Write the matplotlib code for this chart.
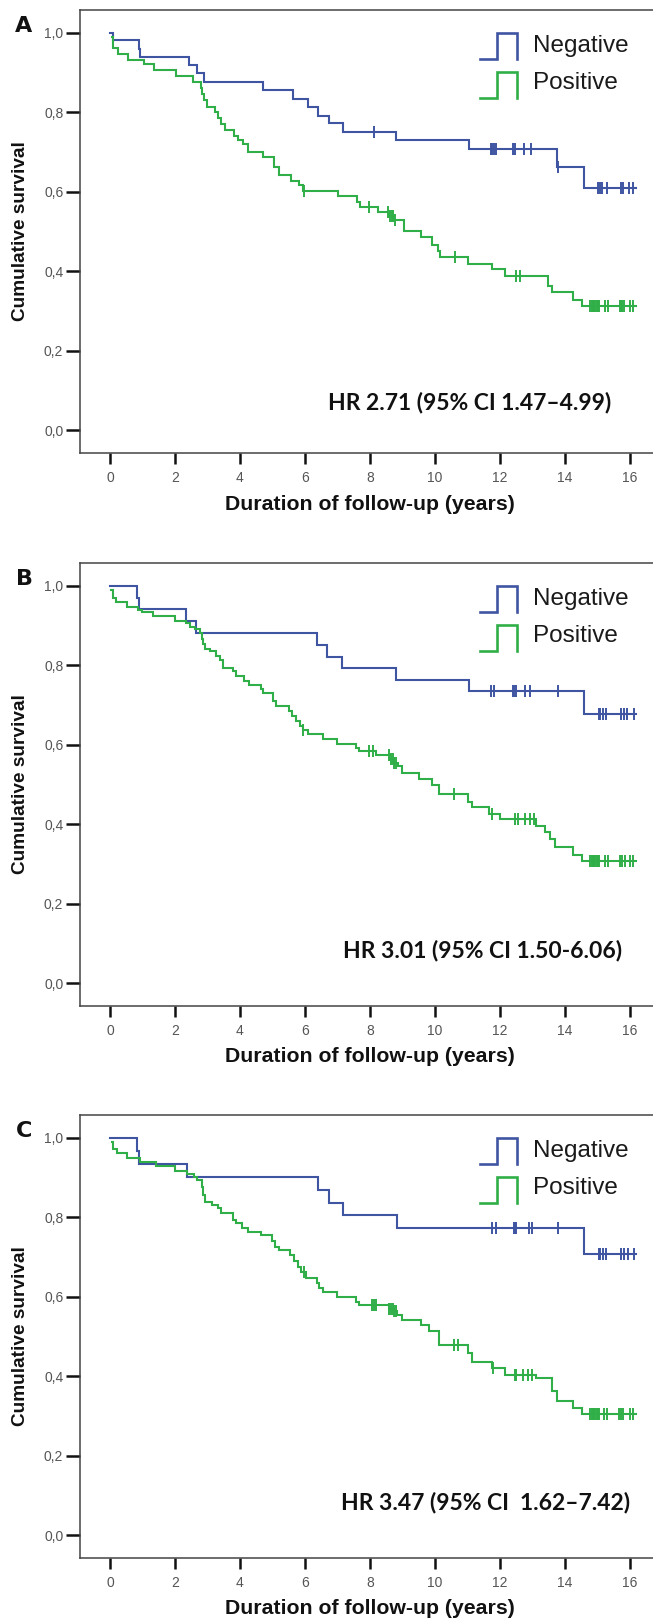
import matplotlib
matplotlib.use("Agg")
import matplotlib.pyplot as plt
import numpy as np

plt.rcParams['font.family'] = ['Liberation Sans', 'DejaVu Sans']

# ---------------- data ----------------
panel_letters = ["A", "B", "C"]
hr_texts = ["HR 2.71 (95% CI 1.47\u20134.99)",
            "HR 3.01 (95% CI 1.50-6.06)",
            "HR 3.47 (95% CI  1.62\u20137.42)"]
group_labels = ["Negative", "Positive"]
x_ticks = [0, 2, 4, 6, 8, 10, 12, 14, 16]
y_ticks = [0.0, 0.2, 0.4, 0.6, 0.8, 1.0]
y_tick_labels = ["0,0", "0,2", "0,4", "0,6", "0,8", "1,0"]
x_label = "Duration of follow-up (years)"
y_label = "Cumulative survival"
follow_up_end = [16.2, 16.2, 16.2]

# Panel A
a_neg_t = [0.0, 0.10, 0.88, 0.93, 2.42, 2.68, 2.89, 4.70, 5.64, 6.08, 6.39, 6.73, 7.16, 8.81, 11.04, 13.75, 14.60]
a_neg_s = [1.0, 0.981, 0.960, 0.940, 0.918, 0.898, 0.877, 0.856, 0.834, 0.812, 0.791, 0.772, 0.751, 0.729, 0.708, 0.661, 0.609]
a_neg_c = [8.13, 11.72, 11.77, 11.82, 11.87, 12.40, 12.45, 12.73, 12.97, 13.80,
           15.03, 15.08, 15.13, 15.29, 15.72, 15.78, 15.98, 16.10]
a_pos_t = [0.05, 0.08, 0.26, 0.54, 1.05, 1.36, 2.04, 2.54, 2.79, 2.84, 2.89, 2.97, 3.22, 3.32, 3.43,
           3.53, 3.83, 3.94, 4.09, 4.24, 4.70, 5.04, 5.19, 5.57, 5.83, 5.93, 7.03, 7.60, 7.69, 8.26,
           8.60, 8.74, 9.05, 9.56, 9.92, 10.10, 10.17, 11.02, 11.76, 12.15, 13.48, 13.60, 14.26, 14.52]
a_pos_s = [0.990, 0.961, 0.946, 0.931, 0.920, 0.905, 0.892, 0.877, 0.862, 0.846, 0.830, 0.812, 0.800, 0.786, 0.771,
           0.754, 0.741, 0.730, 0.720, 0.699, 0.687, 0.662, 0.643, 0.628, 0.616, 0.603, 0.590, 0.574, 0.561, 0.549,
           0.540, 0.528, 0.501, 0.486, 0.467, 0.452, 0.435, 0.419, 0.406, 0.387, 0.364, 0.348, 0.327, 0.312]
a_pos_c = [5.98, 7.98, 8.56, 8.63, 8.68, 8.72, 8.77, 10.61, 12.48, 12.62,
           14.78, 14.82, 14.86, 14.90, 14.94, 14.98, 15.02, 15.06, 15.23, 15.33,
           15.69, 15.73, 15.77, 15.82, 16.00, 16.10]

# Panel B
b_neg_t = [0.0, 0.83, 0.88, 2.33, 2.64, 6.36, 6.68, 7.13, 8.79, 11.04, 14.60]
b_neg_s = [1.0, 0.970, 0.941, 0.910, 0.881, 0.850, 0.821, 0.793, 0.764, 0.734, 0.678]
b_neg_c = [11.74, 11.82, 12.40, 12.44, 12.48, 12.77, 12.92, 13.79,
           15.04, 15.09, 15.16, 15.25, 15.71, 15.81, 15.92, 16.12]
b_pos_t = [0.04, 0.08, 0.20, 0.51, 0.87, 1.00, 1.33, 1.99, 2.35, 2.45, 2.63, 2.76, 2.83, 2.87,
           2.91, 3.07, 3.25, 3.37, 3.48, 3.80, 3.88, 4.11, 4.27, 4.65, 4.70, 5.01, 5.11, 5.52, 5.60,
           5.73, 5.85, 5.93, 6.08, 6.55, 7.00, 7.57, 7.67, 8.20, 8.62, 8.75, 8.85, 9.00, 9.51, 9.92,
           10.12, 11.02, 11.15, 11.66, 12.00, 13.10, 13.40, 13.55, 13.70, 14.26, 14.52]
b_pos_s = [0.988, 0.969, 0.958, 0.946, 0.938, 0.933, 0.923, 0.910, 0.906, 0.897, 0.891, 0.881, 0.865, 0.853,
           0.841, 0.835, 0.824, 0.812, 0.792, 0.785, 0.774, 0.761, 0.749, 0.739, 0.729, 0.709, 0.697, 0.684, 0.672,
           0.659, 0.646, 0.636, 0.626, 0.614, 0.601, 0.592, 0.584, 0.575, 0.565, 0.555, 0.546, 0.528, 0.514, 0.500,
           0.476, 0.456, 0.444, 0.426, 0.413, 0.396, 0.380, 0.362, 0.343, 0.322, 0.307]
b_pos_c = [5.93, 7.98, 8.08, 8.60, 8.65, 8.70, 8.75, 8.80, 10.60, 11.76, 12.47, 12.57, 12.78, 12.93, 13.04,
           14.78, 14.82, 14.86, 14.90, 14.94, 14.98, 15.02, 15.06, 15.23, 15.33,
           15.70, 15.75, 15.85, 16.00, 16.10]

# Panel C
c_neg_t = [0.0, 0.83, 0.88, 2.37, 6.39, 6.73, 7.18, 8.84, 14.60]
c_neg_s = [1.0, 0.966, 0.934, 0.902, 0.869, 0.836, 0.806, 0.773, 0.708]
c_neg_c = [11.75, 11.88, 12.42, 12.45, 12.48, 12.90, 13.00, 13.80,
           15.04, 15.09, 15.16, 15.25, 15.73, 15.83, 15.93, 16.13]
c_pos_t = [0.05, 0.09, 0.23, 0.51, 0.92, 1.43, 1.99, 2.37, 2.58, 2.68, 2.82, 2.86, 2.91, 3.13, 3.33,
           3.43, 3.79, 3.89, 4.07, 4.25, 4.65, 4.98, 5.08, 5.19, 5.55, 5.65, 5.78, 5.88, 6.03, 6.38,
           6.43, 6.54, 7.00, 7.57, 7.67, 8.60, 8.75, 8.84, 8.99, 9.56, 9.82, 10.12, 11.02, 11.14, 11.76,
           12.15, 13.11, 13.60, 13.76, 14.26, 14.52]
c_pos_s = [0.988, 0.971, 0.961, 0.950, 0.940, 0.930, 0.916, 0.908, 0.902, 0.894, 0.875, 0.857, 0.838, 0.831, 0.824,
           0.810, 0.793, 0.785, 0.772, 0.762, 0.754, 0.740, 0.726, 0.718, 0.705, 0.690, 0.676, 0.663, 0.647, 0.634,
           0.621, 0.613, 0.600, 0.588, 0.580, 0.570, 0.563, 0.554, 0.542, 0.529, 0.513, 0.479, 0.458, 0.437, 0.420,
           0.404, 0.395, 0.362, 0.337, 0.320, 0.305]
c_pos_c = [5.98, 8.05, 8.12, 8.20, 8.60, 8.65, 8.70, 8.75, 8.80, 10.60, 10.70, 11.80,
           12.45, 12.50, 12.70, 12.85, 13.00,
           14.78, 14.82, 14.86, 14.90, 14.94, 14.98, 15.02, 15.06, 15.20, 15.30,
           15.65, 15.72, 15.80, 16.00, 16.10]

panels = [
    ((a_neg_t, a_neg_s, a_neg_c), (a_pos_t, a_pos_s, a_pos_c)),
    ((b_neg_t, b_neg_s, b_neg_c), (b_pos_t, b_pos_s, b_pos_c)),
    ((c_neg_t, c_neg_s, c_neg_c), (c_pos_t, c_pos_s, c_pos_c)),
]

# ---------------- style / layout ----------------
W, H = 653, 1620
colors = ["#3F55A2", "#30AE48"]
panel_tops = [10, 563, 1115]
ax_left, ax_w, ax_h = 80, 573, 443
hr_pos = [(11.08, 0.071), (11.46, 0.082), (11.56, 0.083)]

fig = plt.figure(figsize=(W / 100, H / 100), dpi=100)

for i, (groups, top) in enumerate(zip(panels, panel_tops)):
    ax = fig.add_axes([ax_left / W, 1 - (top + ax_h) / H, ax_w / W, ax_h / H])
    for (t, s, c), col in zip(groups, colors):
        t = np.asarray(t, float)
        s = np.asarray(s, float)
        tt = np.r_[t, follow_up_end[i]]
        ss = np.r_[s, s[-1]]
        ax.step(tt, ss, where='post', color=col, lw=1.5, solid_joinstyle='miter')
        c = np.asarray(c, float)
        idx = np.searchsorted(t, c, side='right') - 1
        ax.plot(c, s[idx], ls='none', marker='|', ms=8, mew=1.4, color=col)

    ax.set_xlim(-0.923, 16.71)
    ax.set_ylim(-0.057, 1.057)
    ax.set_xticks(x_ticks)
    ax.set_xticklabels([str(v) for v in x_ticks])
    ax.set_yticks(y_ticks)
    ax.set_yticklabels(y_tick_labels)
    ax.tick_params(axis='x', direction='out', length=8, width=1.8, color='#111111',
                   labelsize=10, labelcolor='#555555', pad=5)
    ax.tick_params(axis='y', direction='out', length=10, width=1.8, color='#111111',
                   labelsize=10, labelcolor='#555555', pad=2)
    for side in ['left', 'bottom', 'top']:
        ax.spines[side].set_color('#444444')
        ax.spines[side].set_linewidth(1.1)
    ax.spines['right'].set_visible(False)

    # legend drawn SPSS-style
    for (ylo, yhi, yt), col, lab in zip([(0.889, 0.947, 0.919), (0.801, 0.861, 0.835)], colors, group_labels):
        ax.plot([0.698, 0.727, 0.727, 0.762, 0.762], [ylo, ylo, yhi, yhi, ylo],
                transform=ax.transAxes, color=col, lw=1.9, solid_joinstyle='miter', clip_on=False)
        ax.text(0.791, yt, lab, transform=ax.transAxes, ha='left', va='center',
                fontsize=17.5, color='#1a1a1a')

    hx, hy = hr_pos[i]
    ax.text(hx, hy, hr_texts[i], ha='center', va='center', fontsize=16.5,
            fontweight='bold', family=['Lato', 'DejaVu Sans'], color='#111111')

    fig.text(21 / W, 1 - (top + ax_h / 2) / H, y_label, rotation=90, ha='center', va='center',
             fontsize=13.7, fontweight='bold', color='#111111')
    fig.text(370 / W, 1 - (top + 494) / H, x_label, ha='center', va='center',
             fontsize=15.3, fontweight='bold', color='#111111')
    fig.text(24 / W, 1 - (top + 16) / H, panel_letters[i], ha='center', va='center',
             fontsize=16, fontweight='bold', family=['DejaVu Sans'], color='#111111')

fig.savefig("out.png", dpi=100)
